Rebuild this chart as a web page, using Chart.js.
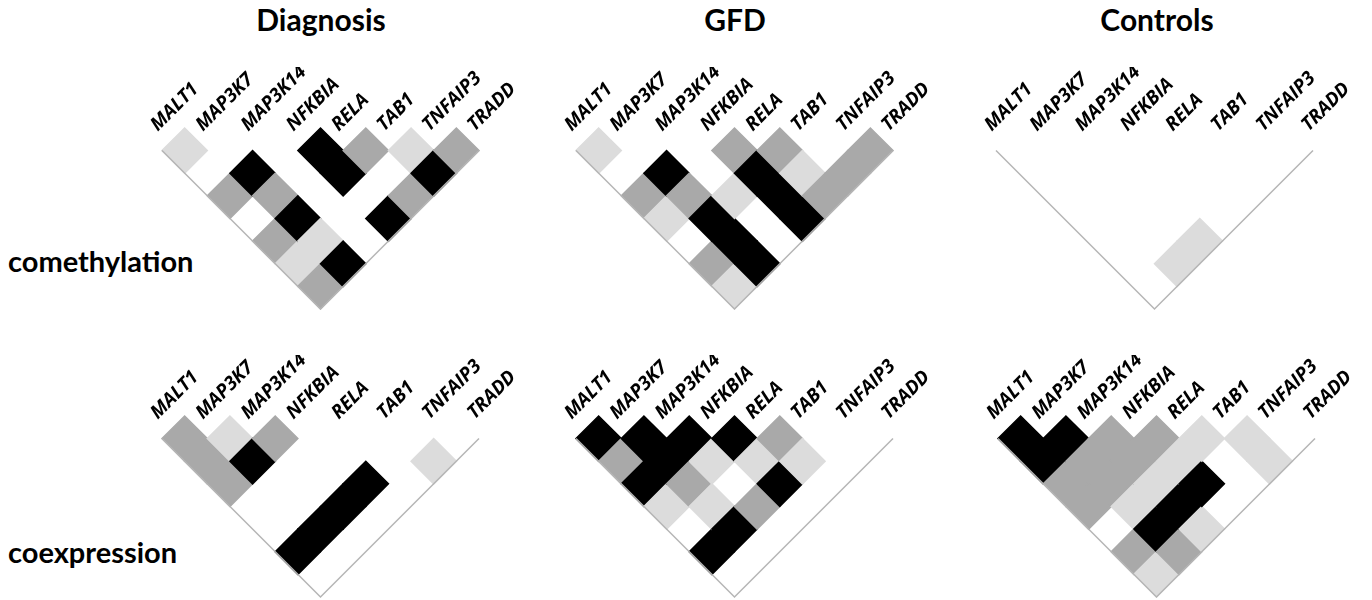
<!DOCTYPE html>
<html>
<head>
<meta charset="utf-8">
<script src="https://cdn.jsdelivr.net/npm/chart.js@4.4.1/dist/chart.umd.min.js"></script>
<style>
  body { margin: 0; width: 1372px; height: 600px; background: #fff; position: relative; overflow: hidden; font-family: Lato, sans-serif; }
  .title { position: absolute; top: 1px; width: 300px; margin-left: -150px; text-align: center; font-weight: bold; font-size: 30px; color: #000; }
  .rowlabel { position: absolute; left: 8px; font-weight: bold; font-size: 29px; color: #000; }
  canvas { position: absolute; }
</style>
</head>
<body>
<div class="title" style="left:321px">Diagnosis</div>
<div class="title" style="left:735px">GFD</div>
<div class="title" style="left:1157px">Controls</div>
<div class="rowlabel" style="top:243px">comethylation</div>
<div class="rowlabel" style="top:534px">coexpression</div>

<canvas id="p0" width="397" height="246" style="left:142px;top:67px"></canvas>
<canvas id="p1" width="397" height="246" style="left:556px;top:67px"></canvas>
<canvas id="p2" width="397" height="246" style="left:976px;top:67px"></canvas>
<canvas id="p3" width="397" height="246" style="left:142px;top:355px"></canvas>
<canvas id="p4" width="397" height="246" style="left:556px;top:355px"></canvas>
<canvas id="p5" width="397" height="246" style="left:978px;top:355px"></canvas>

<script>
const genes = ['MALT1', 'MAP3K7', 'MAP3K14', 'NFKBIA', 'RELA', 'TAB1', 'TNFAIP3', 'TRADD'];

// shade level for each gene pair: row i holds pairs (i, i+1) ... (i, last)
// 0 = none, 1 = light, 2 = medium, 3 = strong
const diagnosisMeth = [[1, 0, 2, 0, 2, 1, 2], [0, 3, 2, 3, 1, 3], [0, 0, 0, 0, 0], [3, 3, 0, 3], [2, 0, 2], [1, 3], [2]];
const gfdMeth       = [[1, 0, 2, 1, 0, 2, 1], [0, 3, 2, 3, 3, 3], [0, 0, 1, 0, 0], [2, 3, 3, 3], [2, 1, 2], [0, 2], [2]];
const controlsMeth  = [[0, 0, 0, 0, 0, 0, 0], [0, 0, 0, 0, 0, 1], [0, 0, 0, 0, 1], [0, 0, 0, 0], [0, 0, 0], [0, 0], [0]];
const diagnosisExpr = [[2, 2, 2, 0, 0, 3, 0], [1, 3, 0, 0, 3, 0], [2, 0, 0, 3, 0], [0, 0, 3, 0], [0, 0, 0], [0, 1], [0]];
const gfdExpr       = [[3, 2, 3, 1, 0, 3, 0], [3, 3, 2, 1, 3, 0], [3, 1, 0, 2, 0], [3, 1, 3, 0], [2, 1, 0], [0, 0], [0]];
const controlsExpr  = [[3, 3, 2, 2, 0, 2, 1], [3, 2, 2, 1, 3, 2], [2, 2, 1, 3, 1], [2, 1, 3, 0], [1, 0, 0], [1, 1], [0]];

const shades = ['#ffffff', '#dcdcdc', '#a9a9a9', '#000000'];

// turn the triangle rows into diamond cells (x along the gene axis, y = depth)
function cellPoints(matrix) {
    const pts = [];
    matrix.forEach((row, i) => {
        row.forEach((v, k) => {
            const j = i + k + 1;
            pts.push({ x: (i + j) / 2, y: (j - i) / 2, v: v });
        });
    });
    // white cells first so shaded ones are never trimmed by them
    return pts.sort((a, b) => (a.v === 0 ? 0 : 1) - (b.v === 0 ? 0 : 1));
}

function halfCell(ctx) {
    const s = ctx.chart.scales.x;
    const r = (s.getPixelForValue(1) - s.getPixelForValue(0)) / 2;
    return isFinite(r) ? r : 0;
}

function drawPanel(id, matrix) {
    const n = genes.length - 1;
    new Chart(document.getElementById(id), {
        type: 'scatter',
        data: {
            datasets: [
                {
                    type: 'line',
                    data: [{ x: 0, y: 0.5 }, { x: n / 2, y: n / 2 + 0.5 }, { x: n, y: 0.5 }],
                    borderColor: '#b5b5b5',
                    borderWidth: 1.5,
                    pointRadius: 0,
                    fill: false,
                    order: 0,
                    clip: false
                },
                {
                    data: cellPoints(matrix),
                    pointStyle: 'rectRot',
                    radius: halfCell,
                    hoverRadius: halfCell,
                    backgroundColor: c => shades[c.raw.v],
                    borderColor: c => shades[c.raw.v],
                    borderWidth: c => c.raw.v ? 1.5 : 0,
                    order: 1,
                    clip: false
                }
            ]
        },
        options: {
            responsive: false,
            animation: false,
            events: [],
            layout: { padding: { left: 20, right: 60, top: 0, bottom: 4 } },
            plugins: { legend: { display: false }, tooltip: { enabled: false } },
            scales: {
                x: {
                    type: 'linear',
                    position: 'top',
                    min: 0,
                    max: n,
                    grid: { display: false, drawTicks: false },
                    border: { display: false },
                    ticks: {
                        stepSize: 1,
                        autoSkip: false,
                        minRotation: 45,
                        maxRotation: 45,
                        padding: 1,
                        labelOffset: 8,
                        color: '#000',
                        font: { family: 'Open Sans', size: 19, weight: 'bold', style: 'italic' },
                        callback: v => genes[v]
                    },
                    afterFit: s => {
                        s.height = 70;
                        s.paddingLeft = 0;
                        s.paddingRight = 0;
                    }
                },
                y: {
                    type: 'linear',
                    reverse: true,
                    // area starts a little below the top diamond tips so the
                    // axis labels (clipped to the axis box) can sit low enough
                    min: 0.2,
                    max: n / 2 + 0.5,
                    display: false
                }
            }
        }
    });
}

drawPanel('p0', diagnosisMeth);
drawPanel('p1', gfdMeth);
drawPanel('p2', controlsMeth);
drawPanel('p3', diagnosisExpr);
drawPanel('p4', gfdExpr);
drawPanel('p5', controlsExpr);
</script>
</body>
</html>
